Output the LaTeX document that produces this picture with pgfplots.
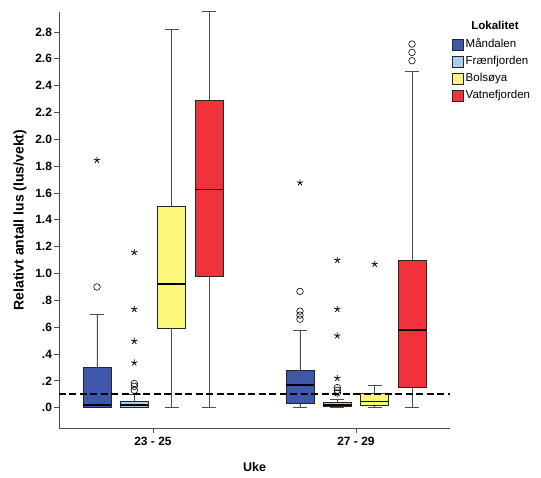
\documentclass[border=0pt]{standalone}
\usepackage{fontspec}
\setmainfont{Liberation Sans}
\usepackage{pgfplots}
\pgfplotsset{compat=1.18}
\usepgfplotslibrary{statistics}

\definecolor{cM}{HTML}{3F57A8}
\definecolor{cF}{HTML}{A9CDEC}
\definecolor{cB}{HTML}{FBF77A}
\definecolor{cV}{HTML}{F0333B}

\pgfplotsset{
  bx/.style={draw=black!85, line width=0.8pt,
    boxplot/every whisker/.style={black!70, line width=0.8pt},
    boxplot/every median/.style={black, line width=1.6pt}},
  circ/.style={only marks, mark=o, mark size=3.3pt, black, line width=0.6pt, forget plot},
  stars/.style={only marks, mark=star, mark size=3.3pt, black, line width=0.8pt, forget plot},
}

\begin{document}
\begin{tikzpicture}
\path[use as bounding box] (-59pt,-49pt) rectangle (482pt,428pt);
\begin{axis}[
  scale only axis, width=391pt, height=416pt,
  xmin=0.537, xmax=2.463, ymin=-0.151, ymax=2.949,
  axis x line=bottom, axis y line=left,
  axis line style={-, black!70, line width=0.8pt},
  xtick={1,2}, xticklabels={23 - 25, 27 - 29},
  ytick={0,0.2,0.4,0.6,0.8,1.0,1.2,1.4,1.6,1.8,2.0,2.2,2.4,2.6,2.8},
  yticklabels={.0,.2,.4,.6,.8,1.0,1.2,1.4,1.6,1.8,2.0,2.2,2.4,2.6,2.8},
  tick align=outside, major tick length=5pt,
  tick style={black!70, line width=0.8pt},
  xticklabel style={font=\bfseries\fontsize{12}{14}\selectfont, yshift=-1pt},
  yticklabel style={font=\bfseries\fontsize{12}{14}\selectfont, xshift=1.5pt},
  clip=false,
  boxplot/draw direction=y,
  every axis x label/.style={at={(axis description cs:0.5,0)}, yshift=-39pt, anchor=center, font=\bfseries\fontsize{12.5}{15}\selectfont},
  every axis y label/.style={at={(axis description cs:0,0.5)}, xshift=-39pt, rotate=90, anchor=center, font=\bfseries\fontsize{14}{16}\selectfont},
  xlabel={Uke}, ylabel={Relativt antall lus (lus/vekt)},
  legend style={draw=none, fill=none, at={(rel axis cs:1,1)}, anchor=north west,
    xshift=2pt, yshift=-27pt, inner sep=0pt, outer sep=0pt, row sep=5.3pt, column sep=2pt,
    font=\fontsize{11.5}{13}\selectfont,
    nodes={inner sep=0pt, text height=8.5pt, text depth=2.5pt}},
  legend cell align=left,
  legend image code/.code={\draw[#1, line width=0.7pt] (0pt,-5.5pt) rectangle (11pt,5.5pt);},
]
\addlegendimage{fill=cM, draw=black!85}\addlegendentry{Måndalen}
\addlegendimage{fill=cF, draw=black!85}\addlegendentry{Frænfjorden}
\addlegendimage{fill=cB, draw=black!85}\addlegendentry{Bolsøya}
\addlegendimage{fill=cV, draw=black!85}\addlegendentry{Vatnefjorden}

% Week 23 - 25
\addplot[bx, fill=cM, forget plot, boxplot prepared={lower whisker=0, lower quartile=0.003, median=0.02, upper quartile=0.30, upper whisker=0.695, draw position=0.724, box extend=0.138, whisker extend=0.07}] coordinates {};
\addplot[bx, fill=cF, forget plot, boxplot prepared={lower whisker=0, lower quartile=0.005, median=0.02, upper quartile=0.05, upper whisker=0.10, draw position=0.908, box extend=0.138, whisker extend=0.07}] coordinates {};
\addplot[bx, fill=cB, forget plot, boxplot prepared={lower whisker=0, lower quartile=0.594, median=0.92, upper quartile=1.498, upper whisker=2.817, draw position=1.092, box extend=0.138, whisker extend=0.07}] coordinates {};
\addplot[bx, fill=cV, forget plot, boxplot prepared={lower whisker=0, lower quartile=0.976, median=1.627, upper quartile=2.293, upper whisker=2.954, draw position=1.276, box extend=0.138, whisker extend=0.07}] coordinates {};

% Week 27 - 29
\addplot[bx, fill=cM, forget plot, boxplot prepared={lower whisker=0, lower quartile=0.033, median=0.169, upper quartile=0.281, upper whisker=0.579, draw position=1.724, box extend=0.138, whisker extend=0.07}] coordinates {};
\addplot[bx, fill=cF, forget plot, boxplot prepared={lower whisker=0, lower quartile=0.007, median=0.02, upper quartile=0.042, upper whisker=0.065, draw position=1.908, box extend=0.138, whisker extend=0.07}] coordinates {};
\addplot[bx, fill=cB, forget plot, boxplot prepared={lower whisker=0, lower quartile=0.015, median=0.045, upper quartile=0.107, upper whisker=0.164, draw position=2.092, box extend=0.138, whisker extend=0.07}] coordinates {};
\addplot[bx, fill=cV, forget plot, boxplot prepared={lower whisker=0, lower quartile=0.149, median=0.579, upper quartile=1.10, upper whisker=2.504, draw position=2.276, box extend=0.138, whisker extend=0.07}] coordinates {};

% outliers
\addplot[circ] coordinates {(0.724,0.90) (0.908,0.13) (0.908,0.16) (0.908,0.18)
  (1.724,0.66) (1.724,0.69) (1.724,0.72) (1.724,0.867)
  (1.908,0.11) (1.908,0.13) (1.908,0.15)
  (2.276,2.586) (2.276,2.648) (2.276,2.71)};
\addplot[stars] coordinates {(0.724,1.845) (0.908,0.335) (0.908,0.497) (0.908,0.735) (0.908,1.158)
  (1.724,1.677) (1.908,0.221) (1.908,0.537) (1.908,0.735) (1.908,1.10) (2.092,1.071)};

% reference line
\addplot[black, line width=1.8pt, dash pattern=on 7pt off 3.5pt, forget plot] coordinates {(0.537,0.1) (2.463,0.1)};

\node[font=\bfseries\fontsize{11.5}{13}\selectfont] at ([xshift=45pt,yshift=-13pt]rel axis cs:1,1) {Lokalitet};
\end{axis}
\end{tikzpicture}
\end{document}
